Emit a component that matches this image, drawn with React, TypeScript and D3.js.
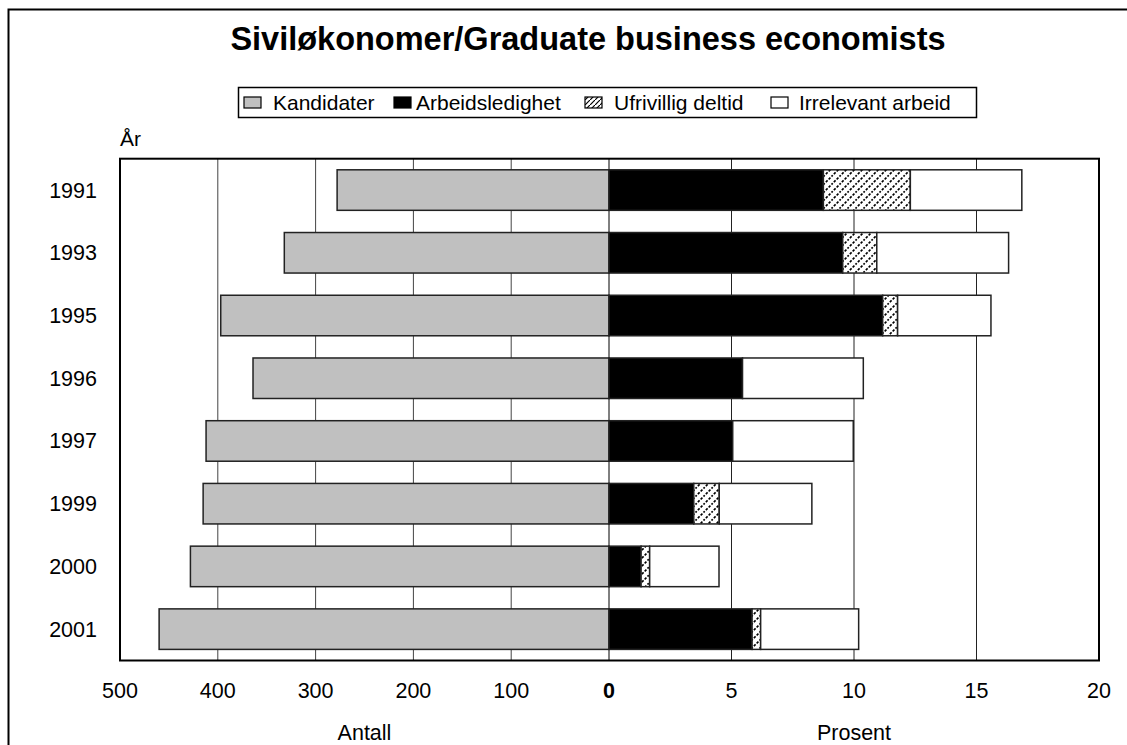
import React from 'react';
import * as d3 from 'd3';

const years = ['1991', '1993', '1995', '1996', '1997', '1999', '2000', '2001'];
const kandidater = [278, 332, 397, 364, 412, 415, 428, 460];
const arbeidsledighet = [8.75, 9.54, 11.17, 5.45, 5.05, 3.46, 1.31, 5.84];
const ufrivilligDeltid = [3.55, 1.39, 0.61, 0, 0, 1.04, 0.35, 0.35];
const irrelevantArbeid = [4.55, 5.38, 3.81, 4.93, 4.92, 3.78, 2.83, 4.0];
const leftTicks = [500, 400, 300, 200, 100];
const rightTicks = [0, 5, 10, 15, 20];
const legendLabels = ['Kandidater', 'Arbeidsledighet', 'Ufrivillig deltid', 'Irrelevant arbeid'];

const FONT = 'Liberation Sans, Arial, Helvetica, sans-serif';

export default function App() {
  const W = 1127, H = 745;
  const plotL = 120, plotR = 1099, plotT = 158.7, plotB = 660.5;
  const xL = d3.scaleLinear().domain([0, 500]).range([609, plotL]);
  const xR = d3.scaleLinear().domain([0, 20]).range([609, plotR]);
  const y = d3.scaleBand<string>().domain(years).range([plotT, plotB]).paddingInner(0.354).paddingOuter(0.177);
  const bw = y.bandwidth();

  const stack = years.map((yr, i) => {
    const a = arbeidsledighet[i];
    const u = ufrivilligDeltid[i];
    const r = irrelevantArbeid[i];
    return [
      { key: 'a', x0: 0, x1: a, fill: '#000' },
      { key: 'u', x0: a, x1: a + u, fill: 'url(#hatch)' },
      { key: 'r', x0: a + u, x1: a + u + r, fill: '#fff' },
    ];
  });

  const fills = ['#c0c0c0', '#000', 'url(#hatchL)', '#fff'];
  const swatchX = [244, 394, 585, 771];
  const textX = [273, 416, 614, 799];

  const gridLeft = [400, 300, 200, 100];
  const gridRight = [5, 10, 15];

  return (
    <svg width={W} height={H} style={{ position: 'absolute', left: 0, top: 0, display: 'block', background: '#fff' }} fontFamily={FONT}>
      <defs>
        <pattern id="hatch" patternUnits="userSpaceOnUse" width="8" height="8">
          <rect width="8" height="8" fill="#fff" />
          <path d="M-1,9 L9,-1 M-4,4 L4,-4 M4,12 L12,4" stroke="#000" strokeWidth="1.6" strokeDasharray="2.5,1.5" />
        </pattern>
        <pattern id="hatchL" patternUnits="userSpaceOnUse" width="5" height="5">
          <rect width="5" height="5" fill="#fff" />
          <path d="M-1,6 L6,-1" stroke="#000" strokeWidth="1.2" />
        </pattern>
      </defs>
      <rect x={8.5} y={9.5} width={1300} height={900} fill="#fff" stroke="#000" strokeWidth={2} />

      <text x={588} y={50} textAnchor="middle" fontSize={32.5} fontWeight="bold">Siviløkonomer/Graduate business economists</text>

      <rect x={238.5} y={87.5} width={738} height={30} fill="#fff" stroke="#000" strokeWidth={1.5} />
      {legendLabels.map((lab, i) => (
        <g key={lab}>
          <rect x={swatchX[i]} y={97} width={17} height={11} fill={fills[i]} stroke="#000" strokeWidth={1.2} />
          <text x={textX[i]} y={109.5} fontSize={21}>{lab}</text>
        </g>
      ))}

      <text x={120} y={146} fontSize={21}>År</text>

      {gridLeft.map(t => (
        <line key={'gl' + t} x1={xL(t)} x2={xL(t)} y1={plotT} y2={plotB} stroke="#444" strokeWidth={1} />
      ))}
      {gridRight.map(t => (
        <line key={'gr' + t} x1={xR(t)} x2={xR(t)} y1={plotT} y2={plotB} stroke="#222" strokeWidth={1} />
      ))}
      <line x1={609} x2={609} y1={plotT} y2={plotB} stroke="#000" strokeWidth={1} />

      {years.map((yr, i) => (
        <g key={yr}>
          <rect x={xL(kandidater[i])} y={y(yr)} width={xL(0) - xL(kandidater[i])} height={bw} fill="#c0c0c0" stroke="#222" strokeWidth={1.5} />
          {stack[i].filter(s => s.x1 > s.x0).map(s => (
            <rect key={s.key} x={xR(s.x0)} y={y(yr)} width={xR(s.x1) - xR(s.x0)} height={bw} fill={s.fill} stroke="#222" strokeWidth={1.5} />
          ))}
          <text x={97} y={(y(yr) as number) + bw / 2 + 7.5} textAnchor="end" fontSize={21.5}>{yr}</text>
        </g>
      ))}

      <rect x={plotL} y={plotT} width={plotR - plotL} height={plotB - plotT} fill="none" stroke="#000" strokeWidth={2} />

      {leftTicks.map(t => (
        <text key={'tl' + t} x={xL(t)} y={698} textAnchor="middle" fontSize={21.5}>{t}</text>
      ))}
      {rightTicks.map(t => (
        <text key={'tr' + t} x={xR(t)} y={698} textAnchor="middle" fontSize={21.5} fontWeight={t === 0 ? 'bold' : 'normal'}>{t}</text>
      ))}

      <text x={(plotL + 609) / 2} y={740} textAnchor="middle" fontSize={21.5}>Antall</text>
      <text x={(609 + plotR) / 2} y={740} textAnchor="middle" fontSize={21.5}>Prosent</text>
    </svg>
  );
}
